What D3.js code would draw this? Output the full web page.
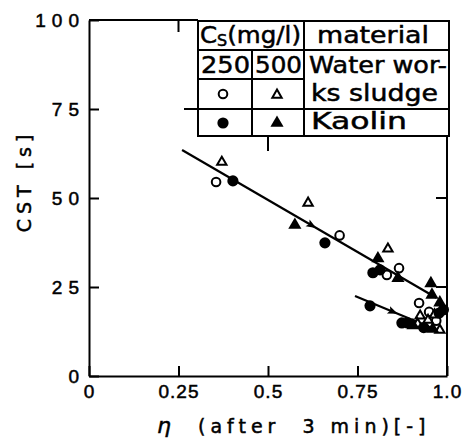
<!DOCTYPE html>
<html>
<head>
<meta charset="utf-8">
<script src="https://cdn.jsdelivr.net/npm/d3@7"></script>
<style>
  body { margin: 0; background: #fff; }
  svg { font-family: "DejaVu Sans", sans-serif; }
  text { stroke: #000; stroke-width: 0.5px; }
</style>
</head>
<body>
<svg id="chart"></svg>
<script>
// data: [eta, CST]
const waterWorks250 = [[0.355, 54.5], [0.70, 39.5], [0.832, 28.4], [0.866, 30.3], [0.922, 20.5], [0.95, 18], [0.97, 15.5]];
const waterWorks500 = [[0.371, 60.1], [0.612, 48.6], [0.835, 35.7], [0.925, 16.9], [0.947, 15.7], [0.918, 14.6], [0.98, 12.9], [0.965, 17.2]];
const kaolin250 = [[0.402, 54.8], [0.659, 37.4], [0.793, 29], [0.813, 29.8], [0.785, 19.7], [0.874, 14.9], [0.89, 14.9], [0.978, 17.7], [0.99, 18.6], [0.935, 13.6]];
const kaolin500 = [[0.575, 42.4], [0.807, 33], [0.863, 27.5], [0.955, 26], [0.958, 22.8], [0.98, 20.6], [0.96, 13.2], [0.905, 14.2]];
const upperLine = [[0.26, 63.5], [0.97, 22]];
const lowerLine = [[0.743, 22.5], [0.97, 13]];
const arrowsAt = [[upperLine, 0.625], [lowerLine, 0.852]];
const xTicks = [0, 0.25, 0.5, 0.75, 1.0];
const xTickLabels = ['0', '0.25', '0.5', '0.75', '1.0'];
const yTicks = [0, 25, 50, 75, 100];

const width = 464, height = 442;
const svg = d3.select('#chart').attr('width', width).attr('height', height);

const x = d3.scaleLinear().domain([0, 1]).range([89, 447]);
const y = d3.scaleLinear().domain([0, 100]).range([376, 20]);

// table box edges
const tbl = { left: 198, right: 449, top: 21, bottom: 136, c1: 252, c2: 304, rows: [21, 50, 79, 109, 136] };

// axes
svg.append('g')
    .attr('transform', `translate(${x(0)},0)`)
    .call(d3.axisLeft(y).tickValues(yTicks).tickSize(-10).tickSizeOuter(0).tickPadding(4))
    .call(g => g.selectAll('text').attr('font-size', 19).attr('letter-spacing', 6).attr('fill', '#000'))
    .call(g => g.selectAll('line,path').attr('stroke', '#000').attr('stroke-width', 2));

svg.append('g')
    .attr('transform', `translate(0,${y(0)})`)
    .call(d3.axisBottom(x).tickValues(xTicks).tickFormat((d, i) => xTickLabels[i]).tickSize(-10).tickSizeOuter(0).tickPadding(9))
    .call(g => g.selectAll('text').attr('font-size', 19).attr('letter-spacing', 1).attr('fill', '#000'))
    .call(g => g.selectAll('line,path').attr('stroke', '#000').attr('stroke-width', 2));

// frame top (up to the table) and right (below the table)
const frame = svg.append('g').attr('stroke', '#000').attr('stroke-width', 2).attr('fill', 'none');
frame.append('line').attr('x1', x(0)).attr('x2', tbl.left).attr('y1', y(100)).attr('y2', y(100));
frame.append('line').attr('x1', x(0.25)).attr('x2', x(0.25)).attr('y1', y(100)).attr('y2', y(100) + 12);
frame.append('line').attr('x1', x(0.5)).attr('x2', x(0.5)).attr('y1', tbl.bottom).attr('y2', tbl.bottom + 15);
frame.append('line').attr('x1', x(1)).attr('x2', x(1)).attr('y1', tbl.bottom).attr('y2', y(0));
[25, 50].forEach(v => frame.append('line').attr('x1', x(1) - 11).attr('x2', x(1)).attr('y1', y(v)).attr('y2', y(v)));
frame.append('line').attr('x1', tbl.left - 14).attr('x2', tbl.left).attr('y1', y(75)).attr('y2', y(75));

// axis titles
svg.append('text')
    .attr('transform', 'translate(31,181) rotate(-90)')
    .attr('text-anchor', 'middle')
    .attr('font-size', 19).attr('letter-spacing', 5)
    .text('CST  [s]');

const xt = svg.append('text')
    .attr('x', 157).attr('y', 433)
    .attr('font-size', 19).attr('letter-spacing', 5)
    .attr('xml:space', 'preserve');
xt.append('tspan').attr('font-style', 'italic').attr('font-size', 22).text('η');
xt.append('tspan').text('  (after  3 min)[-]');

// fitted lines
const line = d3.line().x(d => x(d[0])).y(d => y(d[1]));
svg.selectAll('.fit').data([upperLine, lowerLine]).enter().append('path')
    .attr('d', line).attr('fill', 'none').attr('stroke', '#000').attr('stroke-width', 2.2);

arrowsAt.forEach(([ln, v]) => {
    const t = (v - ln[0][0]) / (ln[1][0] - ln[0][0]);
    const cst = ln[0][1] + t * (ln[1][1] - ln[0][1]);
    const ang = Math.atan2(y(ln[1][1]) - y(ln[0][1]), x(ln[1][0]) - x(ln[0][0])) * 180 / Math.PI;
    svg.append('path')
        .attr('d', 'M4,0 L-6,-4 L-4,0 L-6,4 Z')
        .attr('transform', `translate(${x(v)},${y(cst)}) rotate(${ang})`)
        .attr('fill', '#000');
});

// markers
const tri = (size) => d3.symbol(d3.symbolTriangle, size)();
const pts = svg.append('g');
pts.selectAll('.ww250').data(waterWorks250).enter().append('circle')
    .attr('cx', d => x(d[0])).attr('cy', d => y(d[1])).attr('r', 4.3)
    .attr('fill', '#fff').attr('stroke', '#000').attr('stroke-width', 2);
pts.selectAll('.ww500').data(waterWorks500).enter().append('path')
    .attr('d', tri(38)).attr('transform', d => `translate(${x(d[0])},${y(d[1])})`)
    .attr('fill', '#fff').attr('stroke', '#000').attr('stroke-width', 2);
pts.selectAll('.k250').data(kaolin250).enter().append('circle')
    .attr('cx', d => x(d[0])).attr('cy', d => y(d[1])).attr('r', 5.6)
    .attr('fill', '#000');
pts.selectAll('.k500').data(kaolin500).enter().append('path')
    .attr('d', tri(75)).attr('transform', d => `translate(${x(d[0])},${y(d[1])})`)
    .attr('fill', '#000');

// legend table
const lg = svg.append('g');
lg.append('rect').attr('x', tbl.left).attr('y', tbl.top)
    .attr('width', tbl.right - tbl.left).attr('height', tbl.bottom - tbl.top)
    .attr('fill', '#fff').attr('stroke', '#000').attr('stroke-width', 2);
const lgLines = lg.append('g').attr('stroke', '#000').attr('stroke-width', 2);
lgLines.append('line').attr('x1', tbl.left).attr('x2', tbl.right).attr('y1', tbl.rows[1]).attr('y2', tbl.rows[1]);
lgLines.append('line').attr('x1', tbl.left).attr('x2', tbl.c2).attr('y1', tbl.rows[2]).attr('y2', tbl.rows[2]);
lgLines.append('line').attr('x1', tbl.left).attr('x2', tbl.right).attr('y1', tbl.rows[3]).attr('y2', tbl.rows[3]);
lgLines.append('line').attr('x1', tbl.c1).attr('x2', tbl.c1).attr('y1', tbl.rows[1]).attr('y2', tbl.bottom);
lgLines.append('line').attr('x1', tbl.c2).attr('x2', tbl.c2).attr('y1', tbl.top).attr('y2', tbl.bottom);

const cell = (txt, x0, yb, len) => lg.append('text').attr('x', x0).attr('y', yb)
    .attr('font-size', 23).attr('textLength', len).attr('lengthAdjust', 'spacingAndGlyphs').text(txt);
const cs = lg.append('text').attr('x', 200).attr('y', 43).attr('font-size', 23)
    .attr('textLength', 101).attr('lengthAdjust', 'spacingAndGlyphs');
cs.append('tspan').text('C');
cs.append('tspan').attr('font-size', 15).attr('dy', 3).text('S');
cs.append('tspan').attr('dy', -3).text('(mg/l)');
cell('material', 317, 43, 112);
cell('250', 201, 73, 49);
cell('500', 255, 73, 47);
cell('Water wor-', 309, 73, 138);
cell('ks sludge', 311, 101, 127);
cell('Kaolin', 311, 129, 96);

lg.append('circle').attr('cx', 223).attr('cy', 94).attr('r', 4.3)
    .attr('fill', '#fff').attr('stroke', '#000').attr('stroke-width', 2);
lg.append('path').attr('d', tri(38)).attr('transform', 'translate(277,95)')
    .attr('fill', '#fff').attr('stroke', '#000').attr('stroke-width', 2);
lg.append('circle').attr('cx', 223).attr('cy', 123).attr('r', 5.6).attr('fill', '#000');
lg.append('path').attr('d', tri(75)).attr('transform', 'translate(277,123)').attr('fill', '#000');
</script>
</body>
</html>
